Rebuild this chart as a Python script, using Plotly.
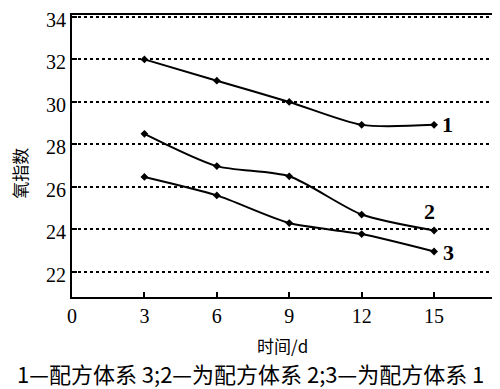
import plotly.graph_objects as go

days = [3, 6, 9, 12, 15]
series1 = [32.0, 31.0, 30.0, 28.92, 28.92]
series2 = [28.5, 26.98, 26.5, 24.7, 23.95]
series3 = [26.47, 25.6, 24.3, 23.78, 22.96]
curve_labels = ["1", "2", "3"]
y_ticks = [22, 24, 26, 28, 30, 32, 34]
x_ticks = [0, 3, 6, 9, 12, 15]
x_title = "时间/d"
y_title = "氧指数"
caption = "1—配方体系 3;2—为配方体系 2;3—为配方体系 1"

serif = "Liberation Serif, Times New Roman, serif"
cjk = "Noto Sans CJK SC"

fig = go.Figure()
for ys in (series1, series2, series3):
    fig.add_trace(go.Scatter(
        x=days, y=ys, mode="lines+markers",
        line=dict(color="black", width=2, shape="spline", smoothing=0.7),
        marker=dict(symbol="diamond", size=6, color="black"),
        showlegend=False, hoverinfo="skip"))

label_pos = [(15, series1[-1], 13, 0), (15, series2[-1], -5, -19), (15, series3[-1], 14, 1)]
for lab, (xx, yy, dx, dy) in zip(curve_labels, label_pos):
    fig.add_annotation(x=xx, y=yy, text="<b>%s</b>" % lab, showarrow=False,
                       xshift=dx, yshift=-dy, font=dict(family=serif, size=22, color="black"))

fig.add_annotation(xref="paper", yref="paper", x=-0.124, y=0.44, xanchor="center",
                   yanchor="middle", text=y_title, textangle=-90, showarrow=False,
                   font=dict(family=cjk, size=17, color="black"))
fig.add_annotation(xref="paper", yref="paper", x=0.5, y=-0.172, yanchor="middle",
                   text=x_title, showarrow=False,
                   font=dict(family=cjk, size=17, color="black"))
fig.add_annotation(xref="paper", yref="paper", x=0.426, y=-0.27, yanchor="middle",
                   text=caption, showarrow=False, xanchor="center",
                   font=dict(family=cjk, size=22, color="black"))

fig.update_xaxes(range=[0, 17.4], tickvals=x_ticks, ticks="inside", ticklen=5,
                 tickwidth=1.5, tickcolor="black", showline=True, linecolor="black",
                 linewidth=2, mirror=True, showgrid=False, zeroline=False,
                 automargin=False, ticklabeloverflow="allow",
                 tickfont=dict(family=serif, size=20, color="black"))
fig.update_yaxes(range=[20.82, 34.09], tickvals=y_ticks, ticks="inside", ticklen=5,
                 tickwidth=1.5, tickcolor="black", showline=True, linecolor="black",
                 linewidth=2, mirror=True, showgrid=True, gridcolor="black",
                 gridwidth=1.5, griddash="dot", zeroline=False,
                 automargin=False, ticklabeloverflow="allow", ticklabelshift=3,
                 tickfont=dict(family=serif, size=20, color="black"))

fig.update_layout(width=492, height=381, margin=dict(l=64, r=8, t=7, b=92),
                  plot_bgcolor="white", paper_bgcolor="white")
fig.write_html("out.html")
